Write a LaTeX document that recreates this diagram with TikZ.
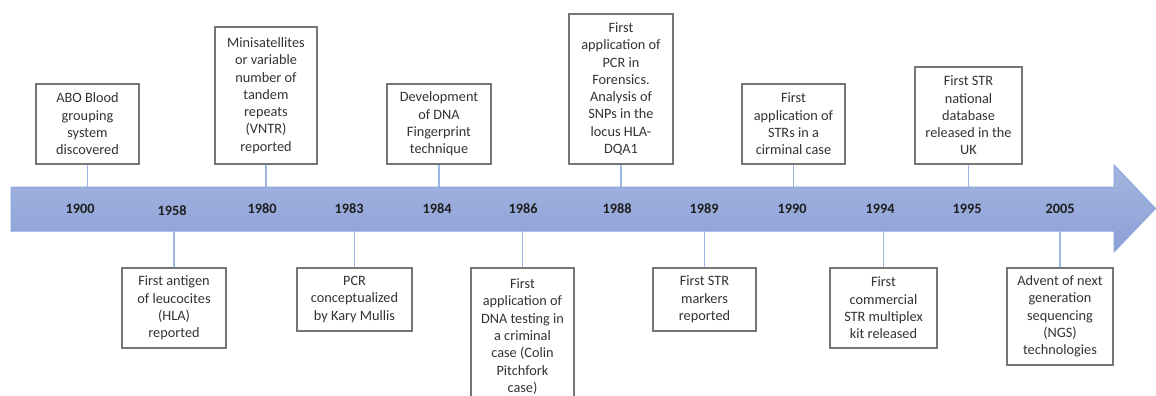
\documentclass[tikz,border=0pt]{standalone}
\usepackage{fontspec}
\setmainfont{Carlito}
\usetikzlibrary{positioning}
\definecolor{txt}{HTML}{333333}
\definecolor{yeartxt}{HTML}{1E1E1E}
\definecolor{boxline}{HTML}{767676}
\definecolor{tick}{HTML}{9DB6E3}
\definecolor{arrowtop}{HTML}{A4B4DF}
\definecolor{arrowbot}{HTML}{8CA1D7}
\definecolor{arrowline}{HTML}{8CA6DC}
\tikzset{
  x=1pt, y=-1pt,
  evbox/.style={draw=boxline, line width=1.3pt, fill=white, align=center,
    text=txt, inner sep=0pt, font=\fontsize{14.3}{17.3}\selectfont},
  year/.style={text=yeartxt, font=\bfseries\fontsize{14.3}{17.3}\selectfont},
  ticker/.style={draw=tick, line width=1.2pt},
}
\begin{document}
\begin{tikzpicture}
\useasboundingbox (0,0) rectangle (1156,396);
\clip (0,0) rectangle (1156,396);

% timeline arrow
\path[top color=arrowtop, bottom color=arrowbot, draw=arrowline, line width=1pt, line join=miter]
  (11,187) -- (1114,187) -- (1114,165) -- (1155.5,208.5) -- (1114,252) -- (1114,231) -- (11,231) -- cycle;
\coordinate (topedge) at (0,187);
\coordinate (botedge) at (0,231);

% years
\node[year] (y1900) at (80,209) {1900};
\node[year] (y1958) at (172,211) {1958};
\node[year] (y1980) at (262,209) {1980};
\node[year] (y1983) at (349,209) {1983};
\node[year] (y1984) at (437,209) {1984};
\node[year] (y1986) at (523,209) {1986};
\node[year] (y1988) at (617,209) {1988};
\node[year] (y1989) at (704,209) {1989};
\node[year] (y1990) at (792,209) {1990};
\node[year] (y1994) at (880,209) {1994};
\node[year] (y1995) at (967,209) {1995};
\node[year] (y2005) at (1060,209) {2005};

% events above the line
\node[evbox, minimum width=103, minimum height=80] (e1900) at (87.5,124)
  {ABO Blood\\grouping\\system\\discovered};
\node[evbox, minimum width=102, minimum height=137] (e1980) at (266,95.5)
  {Minisatellites\\or variable\\number of\\tandem\\repeats\\(VNTR)\\reported};
\node[evbox, minimum width=104, minimum height=80] (e1984) at (439,124)
  {Development\\of DNA\\Fingerprint\\technique};
\node[evbox, minimum width=104, minimum height=150] (e1988) at (621,89)
  {First\\application of\\PCR in\\Forensics.\\Analysis of\\SNPs in the\\locus HLA-\\DQA1};
\node[evbox, minimum width=103, minimum height=80] (e1990) at (793.5,124)
  {First\\application of\\STRs in a\\cirminal case};
\node[evbox, minimum width=107, minimum height=97] (e1995) at (968.5,115.5)
  {First STR\\national\\database\\released in the\\UK};

% events below the line
\node[evbox, minimum width=104, minimum height=80] (e1958) at (174,308)
  {First antigen\\of leucocites\\(HLA)\\reported};
\node[evbox, minimum width=115, minimum height=63] (e1983) at (354.5,299.5)
  {PCR\\conceptualized\\by Kary Mullis};
\node[evbox, minimum width=103, minimum height=137] (e1986) at (522.5,336.5)
  {First\\application of\\DNA testing in\\a criminal\\case (Colin\\Pitchfork\\case)};
\node[evbox, minimum width=103, minimum height=63] (e1989) at (704.5,299.5)
  {First STR\\markers\\reported};
\node[evbox, minimum width=107, minimum height=80] (e1994) at (883.5,308)
  {First\\commercial\\STR multiplex\\kit released};
\node[evbox, minimum width=106, minimum height=97] (e2005) at (1060,316.5)
  {Advent of next\\generation\\sequencing\\(NGS)\\technologies};

% connectors to the timeline
\foreach \e in {e1900,e1980,e1984,e1988,e1990,e1995}
  \draw[ticker] (\e.south) -- (\e.south |- topedge);
\foreach \e in {e1958,e1983,e1986,e1989,e1994,e2005}
  \draw[ticker] (\e.north) -- (\e.north |- botedge);
\end{tikzpicture}
\end{document}
